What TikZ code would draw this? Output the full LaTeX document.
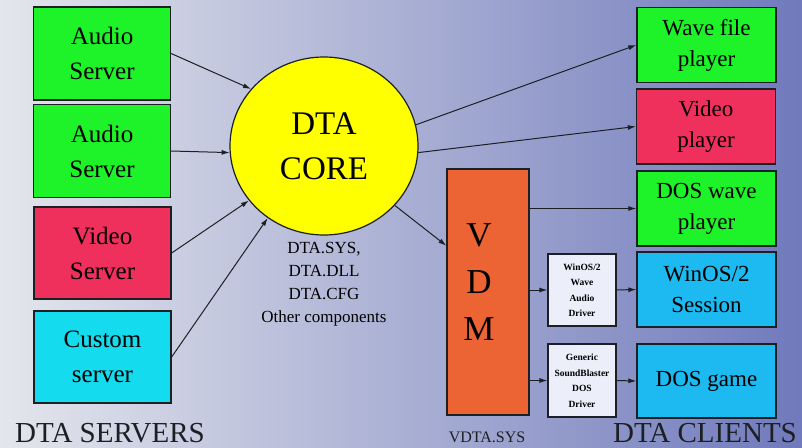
\documentclass[tikz,border=0pt]{standalone}
\usepackage{fontspec}
\setmainfont{Liberation Serif}
\usetikzlibrary{shapes.geometric,arrows.meta}
\definecolor{dtabackl}{RGB}{228,230,236}
\definecolor{dtabackm}{RGB}{186,191,220}
\definecolor{dtabackr}{RGB}{112,122,188}
\definecolor{dtaline}{RGB}{28,32,36}
\definecolor{dtagreen}{RGB}{30,242,40}
\definecolor{dtared}{RGB}{240,48,92}
\definecolor{dtacyan}{RGB}{20,220,238}
\definecolor{dtablue}{RGB}{28,186,240}
\definecolor{dtaorange}{RGB}{236,100,52}
\definecolor{dtayellow}{RGB}{255,255,0}
\definecolor{dtadrv}{RGB}{236,238,250}

\begin{document}
\begin{tikzpicture}[x=1pt,y=-1pt,
  srvbox/.style={draw=dtaline,line width=1.3pt,minimum width=137pt,minimum height=93pt,
    inner sep=0pt,align=center,font=\fontsize{25}{35}\selectfont},
  clibox/.style={draw=dtaline,line width=1.3pt,minimum width=139pt,minimum height=75pt,
    inner sep=0pt,align=center,font=\fontsize{23}{31}\selectfont},
  drvbox/.style={draw=dtaline,line width=1.2pt,fill=dtadrv,minimum width=68pt,minimum height=72pt,
    inner sep=0pt,align=center,font=\fontsize{9.5}{15.5}\selectfont\bfseries},
  link/.style={-{Latex[length=8pt,width=5pt]},line width=1pt,draw=dtaline},
  caption/.style={inner sep=0pt,anchor=base,text=dtaline}]

\shade[left color=dtabackl,middle color=dtabackm,right color=dtabackr] (0,0) rectangle (802,447);
\useasboundingbox (0,0) rectangle (802,447);

% servers
\node [srvbox,fill=dtagreen] (audio1) at (102,53.5) {Audio\\Server};
\node [srvbox,fill=dtagreen] (audio2) at (102,151) {Audio\\Server};
\node [srvbox,fill=dtared,minimum height=92pt] (videosrv) at (102.5,253) {Video\\Server};
\node [srvbox,fill=dtacyan,minimum height=92pt] (custom) at (102.5,357) {Custom\\server};

% core
\node [ellipse,draw=dtaline,line width=1.2pt,fill=dtayellow,minimum width=188pt,minimum height=178pt,
  inner sep=0pt,align=center,font=\fontsize{33}{45}\selectfont] (core) at (324,146) {DTA\\CORE};
\node [inner sep=0pt,align=center,font=\fontsize{17}{23}\selectfont] (parts) at (324,284)
  {DTA.SYS,\\DTA.DLL\\DTA.CFG\\Other components};

% vdm
\node [draw=dtaline,line width=1.3pt,fill=dtaorange,minimum width=82pt,minimum height=246pt] (vdm) at (488,292) {};
\node [inner sep=0pt,align=center,font=\fontsize{35}{47}\selectfont] (vdmtext) at (479,282) {V\\D\\M};
\node [drvbox] (drvwin) at (582,290) {WinOS/2\\Wave\\Audio\\Driver};
\node [drvbox,minimum height=73pt] (drvsb) at (582,380.5) {Generic\\SoundBlaster\\DOS\\Driver};

% clients
\node [clibox,fill=dtagreen] (wave) at (706.5,45) {Wave file\\player};
\node [clibox,fill=dtared] (videocli) at (706,126.5) {Video\\player};
\node [clibox,fill=dtagreen] (doswave) at (706.5,208.5) {DOS wave\\player};
\node [clibox,fill=dtablue] (winos) at (706.5,289.5) {WinOS/2\\Session};
\node [clibox,fill=dtablue,minimum height=74pt] (game) at (706.5,381) {DOS game};

% captions
\node [caption,font=\fontsize{29}{29}\selectfont] (srvcap) at (110,442) {DTA SERVERS};
\node [caption,font=\fontsize{16}{16}\selectfont] (vdmcap) at (487,442) {VDTA.SYS};
\node [caption,font=\fontsize{29}{29}\selectfont] (clicap) at (705,442) {DTA CLIENTS};

% links
\draw [link] (audio1.east) -- (core.142);
\draw [link] (audio2.east) -- (core.184);
\draw [link] (videosrv.east) -- (core.216);
\draw [link] (custom.east) -- (core.232);
\draw [link] (core.13) -- (wave.west);
\draw [link] (core.356) -- (videocli.west);
\draw [link] (core.320) -- (vdm.132);
\draw [link] (vdm.east |- doswave.west) -- (doswave.west);
\draw [link] (vdm.east |- drvwin.west) -- (drvwin.west);
\draw [link] (drvwin.east) -- (winos.west);
\draw [link] (vdm.east |- drvsb.west) -- (drvsb.west);
\draw [link] (drvsb.east) -- (game.west);
\end{tikzpicture}
\end{document}
